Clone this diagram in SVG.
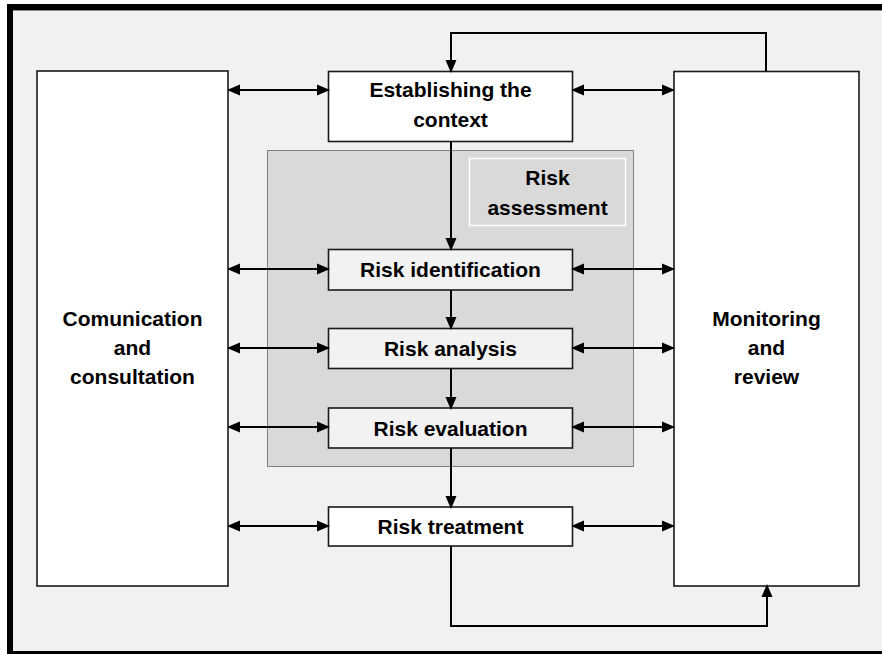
<svg xmlns="http://www.w3.org/2000/svg" width="882" height="654" viewBox="0 0 882 654">
<defs>
<marker id="ah" markerUnits="userSpaceOnUse" markerWidth="14" markerHeight="12" viewBox="0 0 13 12" refX="11" refY="6" orient="auto-start-reverse">
<path d="M0,0.5 L13,6 L0,11.5 z" fill="#000"/>
</marker>
<style>
.box{stroke:#1a1a1a;stroke-width:1.6}
.white{fill:#fff}
.light{fill:#f2f2f2}
.t{font-family:"Liberation Sans",Arial,sans-serif;font-weight:bold;font-size:21px;fill:#000;text-anchor:middle}
.c{fill:none;stroke:#000;stroke-width:2}
.a2{marker-start:url(#ah);marker-end:url(#ah)}
.a1{marker-end:url(#ah)}
</style>
</defs>
<rect x="0" y="0" width="882" height="654" fill="#fff"/>
<rect x="7" y="4" width="875" height="650" fill="#f1f1f1"/>
<rect x="7" y="4" width="875" height="6" fill="#000"/>
<rect x="7" y="4" width="6" height="650" fill="#000"/>
<rect x="7" y="651" width="875" height="3" fill="#000"/>
<line x1="13" y1="10.5" x2="882" y2="10.5" stroke="#888" stroke-width="1"/>

<g id="risk-assessment-area">
<rect x="267.5" y="150.5" width="366" height="316" fill="#d9d9d9" stroke="#808080" stroke-width="1"/>
<rect x="469.5" y="158.5" width="156" height="67" fill="none" stroke="#fff" stroke-width="1.5"/>
<text class="t" x="547.5" y="185">Risk</text>
<text class="t" x="547.5" y="215">assessment</text>
</g>

<g id="communication">
<rect class="box white" x="37" y="71" width="191" height="515"/>
<text class="t" x="132.5" y="326">Comunication</text>
<text class="t" x="132.5" y="355">and</text>
<text class="t" x="132.5" y="384">consultation</text>
</g>

<g id="monitoring">
<rect class="box white" x="674" y="71.5" width="185" height="514.5"/>
<text class="t" x="766.5" y="326">Monitoring</text>
<text class="t" x="766.5" y="355">and</text>
<text class="t" x="766.5" y="384">review</text>
</g>

<g id="establishing">
<rect class="box white" x="328.5" y="71.5" width="244" height="70"/>
<text class="t" x="450.5" y="97">Establishing the</text>
<text class="t" x="450.5" y="126.5">context</text>
</g>

<g id="identification">
<rect class="box light" x="328.5" y="249.5" width="244" height="40.5"/>
<text class="t" x="450.5" y="277">Risk identification</text>
</g>

<g id="analysis">
<rect class="box light" x="328.5" y="328.5" width="244" height="40"/>
<text class="t" x="450.5" y="356">Risk analysis</text>
</g>

<g id="evaluation">
<rect class="box light" x="328.5" y="408" width="244" height="40"/>
<text class="t" x="450.5" y="435.5">Risk evaluation</text>
</g>

<g id="treatment">
<rect class="box white" x="328.5" y="507" width="244" height="39"/>
<text class="t" x="450.5" y="534">Risk treatment</text>
</g>

<g id="connectors">
<path class="c a1" d="M766,71 V33 H451 V71"/>
<path class="c a1" d="M451,142 V249"/>
<path class="c a1" d="M451,290 V328"/>
<path class="c a1" d="M451,369 V408"/>
<path class="c a1" d="M451,448 V507"/>
<path class="c a1" d="M451,546 V626 H767 V586"/>
<line class="c a2" x1="229" y1="90" x2="328" y2="90"/>
<line class="c a2" x1="573" y1="90" x2="673" y2="90"/>
<line class="c a2" x1="229" y1="269" x2="328" y2="269"/>
<line class="c a2" x1="573" y1="269" x2="673" y2="269"/>
<line class="c a2" x1="229" y1="348" x2="328" y2="348"/>
<line class="c a2" x1="573" y1="348" x2="673" y2="348"/>
<line class="c a2" x1="229" y1="427" x2="328" y2="427"/>
<line class="c a2" x1="573" y1="427" x2="673" y2="427"/>
<line class="c a2" x1="229" y1="526" x2="328" y2="526"/>
<line class="c a2" x1="573" y1="526" x2="673" y2="526"/>
</g>
</svg>
